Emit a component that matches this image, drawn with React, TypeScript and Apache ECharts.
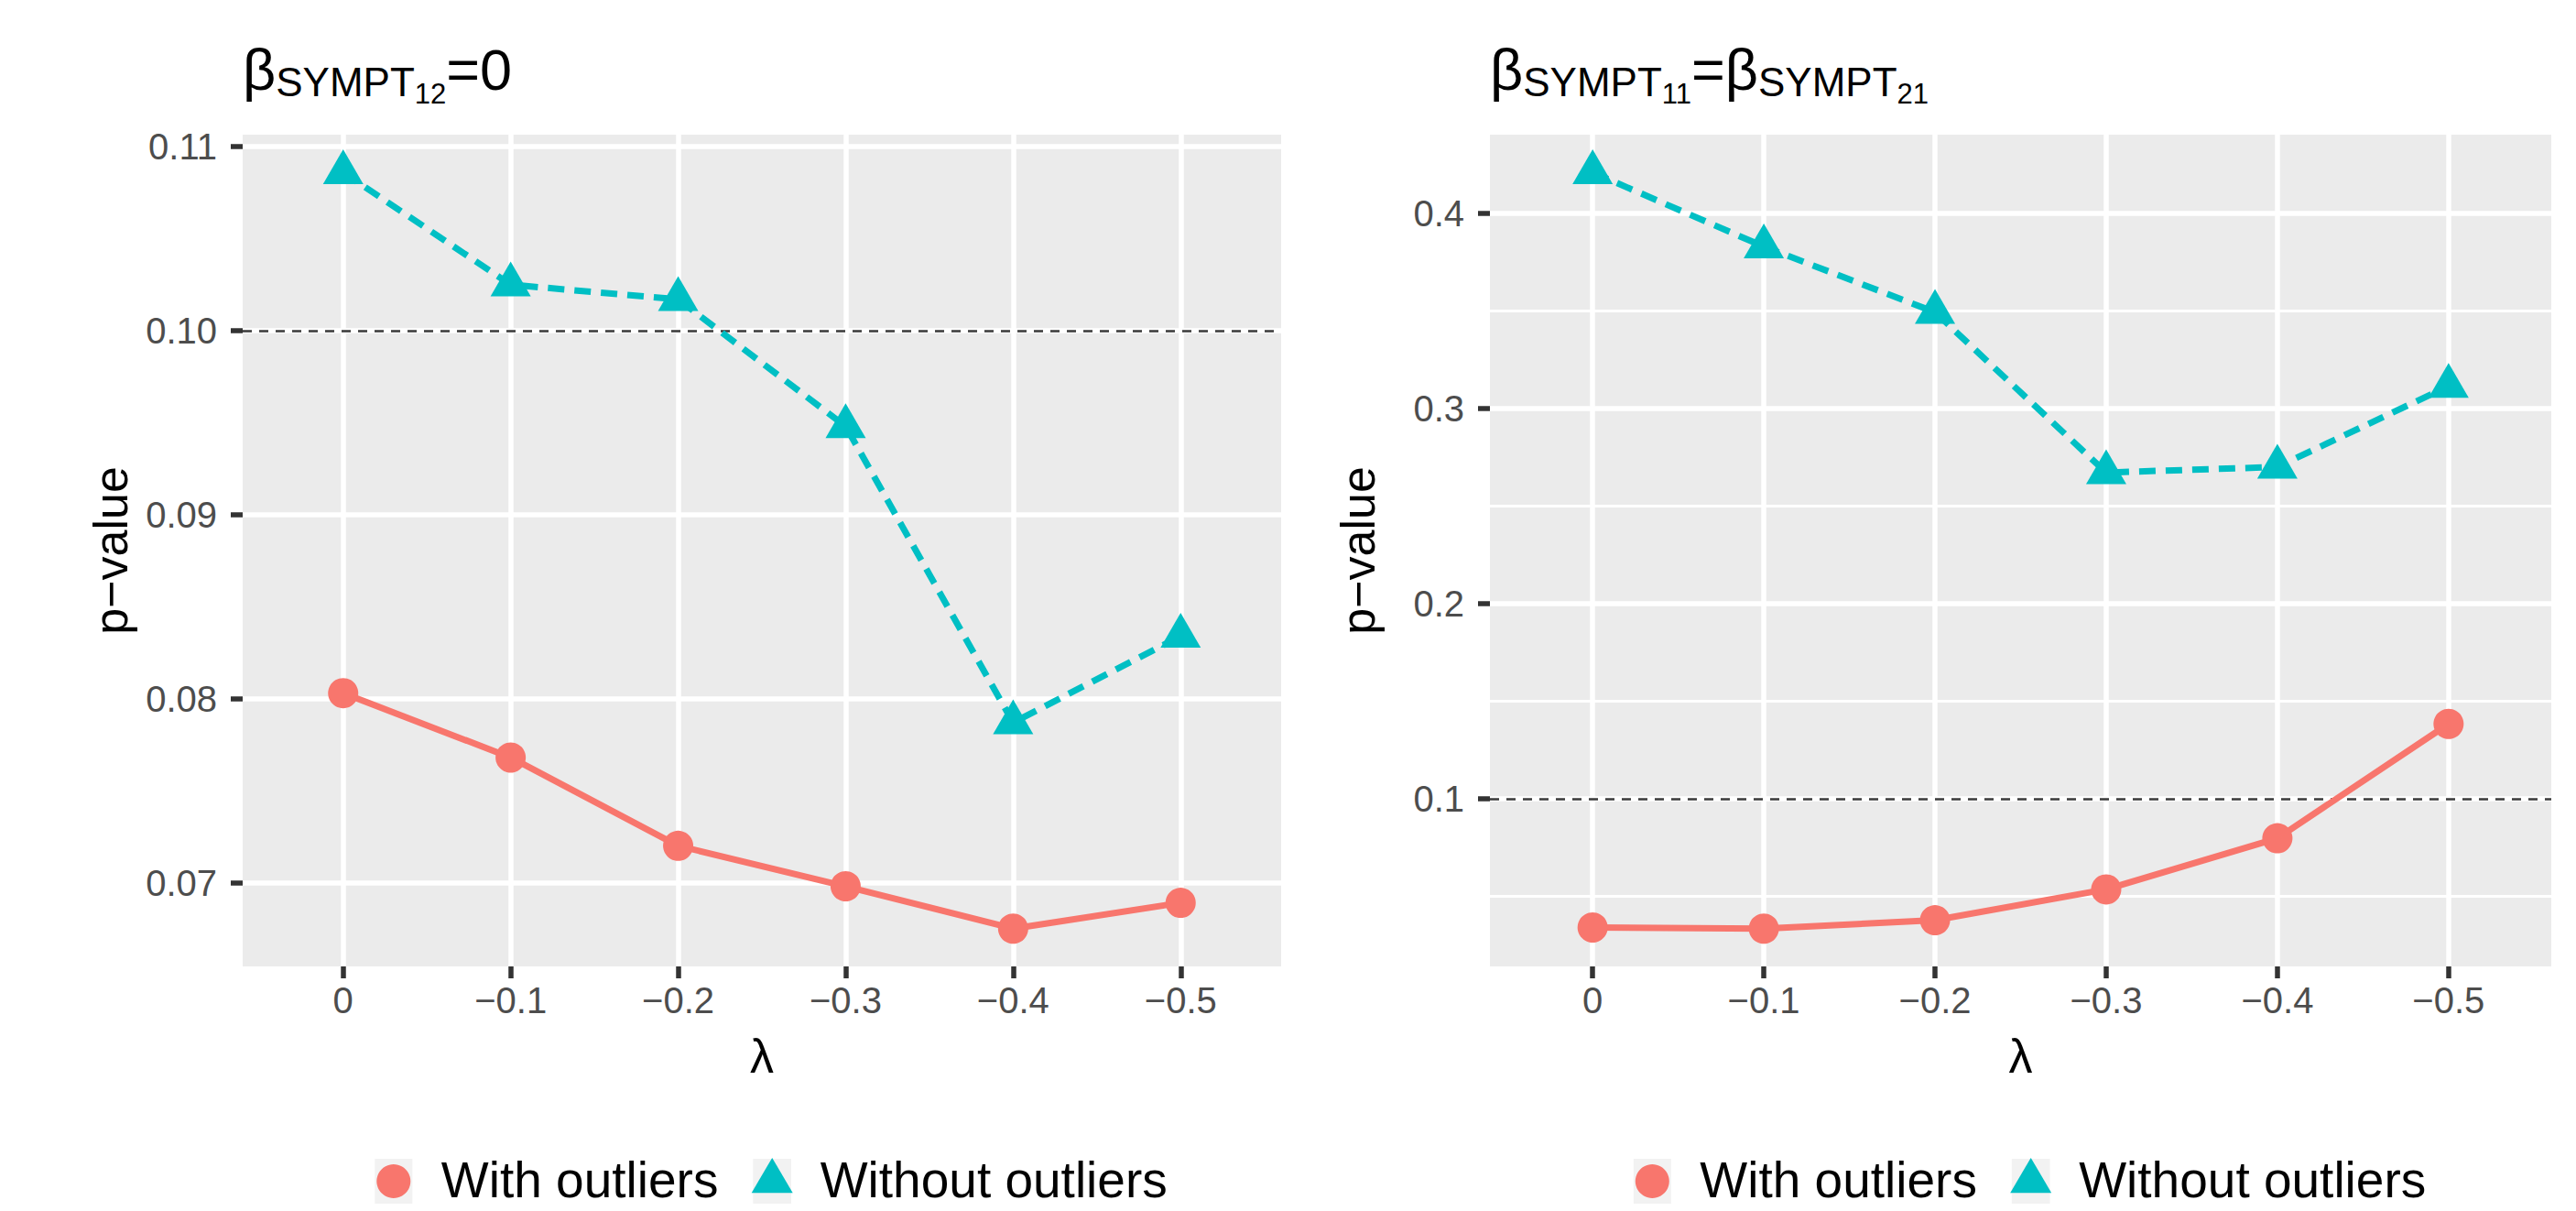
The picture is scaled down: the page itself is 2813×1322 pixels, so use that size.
import React, { useEffect, useRef } from 'react';
import * as echarts from 'echarts';

// ---------- data ----------
const lambdaLabels = ['0', '\u22120.1', '\u22120.2', '\u22120.3', '\u22120.4', '\u22120.5'];
const seriesNames = ['With outliers', 'Without outliers'];

const leftWith = [0.0803, 0.0768, 0.0720, 0.0698, 0.0675, 0.0689];
const leftWithout = [0.1086, 0.1025, 0.1017, 0.0948, 0.0787, 0.0834];
const rightWith = [0.0341, 0.0335, 0.0378, 0.0536, 0.0798, 0.1384];
const rightWithout = [0.4210, 0.3830, 0.3494, 0.2672, 0.2701, 0.3115];

const leftYTicks = [0.07, 0.08, 0.09, 0.10, 0.11];
const leftYMinor = [0.075, 0.085, 0.095, 0.105];
const rightYTicks = [0.1, 0.2, 0.3, 0.4];
const rightYMinor = [0.05, 0.15, 0.25, 0.35];
const refLine = 0.10;

// ---------- style ----------
const FONT = '"Liberation Sans", Arial, Helvetica, sans-serif';
const RED = '#F8766D';
const TEAL = '#00BFC4';
const BG = '#EBEBEB';

function expandRange(vals: number[]) {
  const lo = Math.min(...vals);
  const hi = Math.max(...vals);
  const r = hi - lo;
  return [lo - 0.05 * r, hi + 0.05 * r];
}

function measure(text: string, size: number) {
  const c = document.createElement('canvas').getContext('2d')!;
  c.font = `${size}px "Liberation Sans"`;
  return c.measureText(text).width;
}

function textEl(text: string, x: number, baseline: number, size: number, fill = '#000') {
  return {
    type: 'text',
    x,
    y: baseline - 0.3465 * size,
    silent: true,
    style: {
      text,
      fill,
      fontSize: size,
      fontFamily: FONT,
      align: 'left',
      verticalAlign: 'middle',
    },
  };
}

type Piece = [string, number, number];

function titleEls(pieces: Piece[], x0: number, baseline: number) {
  const els: any[] = [];
  let x = x0;
  pieces.forEach(([t, size, dy]) => {
    els.push(textEl(t, x, baseline + dy, size));
    x += measure(t, size);
  });
  return els;
}

function legendEls(x0: number) {
  const keyTop = 1265;
  const keyH = 49;
  const cy = keyTop + keyH / 2;
  const els: any[] = [];
  els.push({ type: 'rect', silent: true, shape: { x: x0, y: keyTop, width: 41, height: keyH }, style: { fill: '#F2F2F2' } });
  els.push({ type: 'circle', silent: true, shape: { cx: x0 + 20.5, cy, r: 18.5 }, style: { fill: RED } });
  els.push(textEl(seriesNames[0], x0 + 72.5, 1307.3, 55));
  const k2 = x0 + 413;
  els.push({ type: 'rect', silent: true, shape: { x: k2, y: keyTop, width: 41.7, height: keyH }, style: { fill: '#F2F2F2' } });
  const tcx = k2 + 20.9;
  const apex = cy - 25.6;
  const base = cy + 12.8;
  els.push({
    type: 'polygon', silent: true,
    shape: { points: [[tcx, apex], [tcx + 22.5, base], [tcx - 22.5, base]] },
    style: { fill: TEAL },
  });
  els.push(textEl(seriesNames[1], k2 + 73.4, 1307.3, 55));
  return els;
}

function xAxisCfg(gridIndex: number) {
  const idx = lambdaLabels.map((_, i) => i);
  return {
    gridIndex,
    type: 'value',
    position: 'bottom',
    min: -0.6,
    max: 5.6,
    axisLine: { show: false, onZero: false },
    axisTick: { show: true, inside: false, length: 13, customValues: idx, lineStyle: { color: '#333333', width: 5.5 } },
    axisLabel: {
      customValues: idx,
      formatter: (v: number) => lambdaLabels[Math.round(v)] ?? '',
      fontSize: 40,
      color: '#4D4D4D',
      fontFamily: FONT,
      margin: 17,
    },
    splitLine: { show: true, lineStyle: { color: '#FFFFFF', width: 5.5 } },
    name: '\u03bb',
    nameLocation: 'middle',
    nameGap: 72,
    nameTextStyle: { fontSize: 52, color: '#000', fontFamily: FONT },
  };
}

function yAxisCfg(gridIndex: number, ticks: number[], range: number[], digits: number) {
  return {
    gridIndex,
    type: 'value',
    position: 'left',
    min: range[0],
    max: range[1],
    axisLine: { show: false, onZero: false },
    axisTick: { show: true, inside: false, length: 13, customValues: ticks, lineStyle: { color: '#333333', width: 5.5 } },
    axisLabel: {
      customValues: ticks,
      formatter: (v: number) => v.toFixed(digits),
      fontSize: 40,
      color: '#4D4D4D',
      fontFamily: FONT,
      margin: 28,
    },
    splitLine: { show: true, lineStyle: { color: '#FFFFFF', width: 5.5 } },
    name: 'p\u2212value',
    nameLocation: 'middle',
    nameGap: 118,
    nameTextStyle: { fontSize: 52, color: '#000', fontFamily: FONT },
  };
}

function panelSeries(gi: number, withVals: number[], withoutVals: number[], minor: number[]) {
  const lines: any[] = minor.map((v) => ({ yAxis: v, lineStyle: { color: '#FFFFFF', width: 2.8, type: 'solid' } }));
  lines.push({ yAxis: refLine, lineStyle: { color: '#3A3A3A', width: 2.6, type: [10, 8] } });
  return [
    {
      type: 'line',
      xAxisIndex: gi,
      yAxisIndex: gi,
      data: [],
      z: 1,
      silent: true,
      markLine: {
        silent: true,
        z: 1,
        symbol: ['none', 'none'],
        label: { show: false },
        emphasis: { disabled: true },
        data: lines,
      },
    },
    {
      name: seriesNames[0],
      type: 'line',
      xAxisIndex: gi,
      yAxisIndex: gi,
      z: 3,
      data: withVals.map((v, i) => [i, v]),
      symbol: 'circle',
      symbolSize: 33,
      showAllSymbol: true,
      itemStyle: { color: RED, borderWidth: 0 },
      lineStyle: { color: RED, width: 7, type: 'solid' },
    },
    {
      name: seriesNames[1],
      type: 'line',
      xAxisIndex: gi,
      yAxisIndex: gi,
      z: 3,
      data: withoutVals.map((v, i) => [i, v]),
      symbol: 'triangle',
      symbolSize: [44, 38],
      symbolOffset: [0, -6.3],
      showAllSymbol: true,
      itemStyle: { color: TEAL, borderWidth: 0 },
      lineStyle: { color: TEAL, width: 7, type: [18, 11] },
    },
  ];
}

export default function App() {
  const ref = useRef<HTMLDivElement>(null);
  useEffect(() => {
    if (!ref.current) return;
    const chart = echarts.init(ref.current, null, { renderer: 'svg' });
    const leftRange = expandRange([...leftWith, ...leftWithout, refLine]);
    const rightRange = expandRange([...rightWith, ...rightWithout, refLine]);

    const leftTitle: Piece[] = [['\u03b2', 63, 0], ['SYMPT', 44, 7], ['12', 31, 15], ['=0', 63, 0]];
    const rightTitle: Piece[] = [
      ['\u03b2', 63, 0], ['SYMPT', 44, 7], ['11', 31, 15], ['=', 63, 0],
      ['\u03b2', 63, 0], ['SYMPT', 44, 7], ['21', 31, 15],
    ];

    const option: any = {
      animation: false,
      backgroundColor: '#FFFFFF',
      textStyle: { fontFamily: FONT },
      grid: [
        { left: 265, top: 147, width: 1134, height: 908, show: true, backgroundColor: BG, borderWidth: 0, containLabel: false },
        { left: 1627, top: 147, width: 1159, height: 908, show: true, backgroundColor: BG, borderWidth: 0, containLabel: false },
      ],
      xAxis: [xAxisCfg(0), xAxisCfg(1)],
      yAxis: [yAxisCfg(0, leftYTicks, leftRange, 2), yAxisCfg(1, rightYTicks, rightRange, 1)],
      series: [
        ...panelSeries(0, leftWith, leftWithout, leftYMinor),
        ...panelSeries(1, rightWith, rightWithout, rightYMinor),
      ],
      graphic: {
        elements: [
          ...titleEls(leftTitle, 265, 98),
          ...titleEls(rightTitle, 1627, 98),
          ...legendEls(409.3),
          ...legendEls(1783.8),
        ],
      },
    };
    chart.setOption(option);
    return () => chart.dispose();
  }, []);
  return (
    <div
      ref={ref}
      style={{ position: 'absolute', left: 0, top: 0, width: 2813, height: 1322, background: '#fff' }}
    />
  );
}
